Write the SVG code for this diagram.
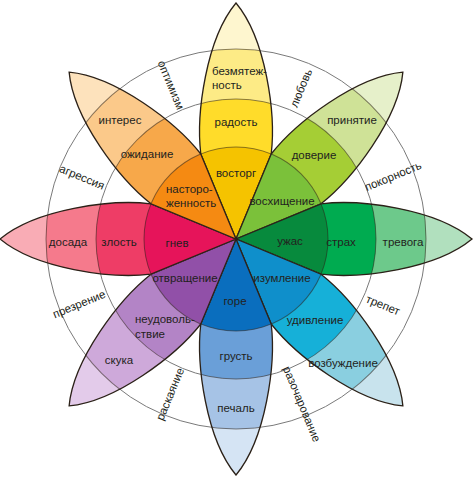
<svg xmlns="http://www.w3.org/2000/svg" xmlns:xlink="http://www.w3.org/1999/xlink" width="474" height="478" viewBox="0 0 474 478">
<defs>
<path id="petal" d="M0,0 L35.2,-85 C40,-125 30,-200 0,-236 C-30,-200 -40,-125 -35.2,-85 Z"/>
<clipPath id="pc"><use xlink:href="#petal"/></clipPath>
</defs>
<style>
.t{font-family:"Liberation Sans",Arial,sans-serif;font-size:11.5px;fill:#231f20;text-anchor:middle}
.s{text-anchor:start}
.ring{fill:none;stroke:#7a7a7a;stroke-width:1}
.band{fill:none;stroke:#2b2118;stroke-opacity:0.55;stroke-width:1}
.edge{fill:none;stroke:#2b2118;stroke-width:1.3;stroke-linejoin:miter}
</style>
<rect width="474" height="478" fill="#fff"/>
<g id="rings">
<circle class="ring" cx="236" cy="239" r="140"/>
<circle class="ring" cx="236" cy="239" r="190"/>
</g>
<g id="petal-joy" transform="translate(236,239)">
<g clip-path="url(#pc)">
<circle r="240" fill="#fef6cf"/><circle r="190" fill="#fdeb86"/><circle r="140" fill="#ffdc2a"/><circle r="92" fill="#f5c300"/>
<circle class="band" r="190"/><circle class="band" r="140"/><circle class="band" r="92"/>
</g>
<use xlink:href="#petal" class="edge"/>
</g>
<g id="petal-trust" transform="translate(236,239) rotate(45)">
<g clip-path="url(#pc)">
<circle r="240" fill="#e6f0ca"/><circle r="190" fill="#cfe297"/><circle r="140" fill="#a5ce35"/><circle r="92" fill="#7bc13a"/>
<circle class="band" r="190"/><circle class="band" r="140"/><circle class="band" r="92"/>
</g>
<use xlink:href="#petal" class="edge"/>
</g>
<g id="petal-fear" transform="translate(236,239) rotate(90)">
<g clip-path="url(#pc)">
<circle r="240" fill="#b1e0be"/><circle r="190" fill="#6dc98b"/><circle r="140" fill="#00ab50"/><circle r="92" fill="#078a3d"/>
<circle class="band" r="190"/><circle class="band" r="140"/><circle class="band" r="92"/>
</g>
<use xlink:href="#petal" class="edge"/>
</g>
<g id="petal-surprise" transform="translate(236,239) rotate(135)">
<g clip-path="url(#pc)">
<circle r="240" fill="#c8e3ed"/><circle r="190" fill="#8acfe0"/><circle r="140" fill="#16b0d8"/><circle r="92" fill="#0f8fcb"/>
<circle class="band" r="190"/><circle class="band" r="140"/><circle class="band" r="92"/>
</g>
<use xlink:href="#petal" class="edge"/>
</g>
<g id="petal-sadness" transform="translate(236,239) rotate(180)">
<g clip-path="url(#pc)">
<circle r="240" fill="#d5e4f4"/><circle r="190" fill="#a6c3e6"/><circle r="140" fill="#6a9fd8"/><circle r="92" fill="#0a6ebe"/>
<circle class="band" r="190"/><circle class="band" r="140"/><circle class="band" r="92"/>
</g>
<use xlink:href="#petal" class="edge"/>
</g>
<g id="petal-disgust" transform="translate(236,239) rotate(225)">
<g clip-path="url(#pc)">
<circle r="240" fill="#e3cbea"/><circle r="190" fill="#cea9da"/><circle r="140" fill="#b384c6"/><circle r="92" fill="#9150a8"/>
<circle class="band" r="190"/><circle class="band" r="140"/><circle class="band" r="92"/>
</g>
<use xlink:href="#petal" class="edge"/>
</g>
<g id="petal-anger" transform="translate(236,239) rotate(270)">
<g clip-path="url(#pc)">
<circle r="240" fill="#f9acb5"/><circle r="190" fill="#f57a8c"/><circle r="140" fill="#ee3d66"/><circle r="92" fill="#e6145a"/>
<circle class="band" r="190"/><circle class="band" r="140"/><circle class="band" r="92"/>
</g>
<use xlink:href="#petal" class="edge"/>
</g>
<g id="petal-anticipation" transform="translate(236,239) rotate(315)">
<g clip-path="url(#pc)">
<circle r="240" fill="#fde2bc"/><circle r="190" fill="#fbc98a"/><circle r="140" fill="#f7a84a"/><circle r="92" fill="#f58a12"/>
<circle class="band" r="190"/><circle class="band" r="140"/><circle class="band" r="92"/>
</g>
<use xlink:href="#petal" class="edge"/>
</g>
<g id="labels-petals">
<text class="t s" x="212" y="75">безмятеж-</text>
<text class="t s" x="212" y="89">ность</text>
<text class="t" x="236" y="126">радость</text>
<text class="t" x="236" y="177">восторг</text>
<text class="t s" x="166" y="193">насторо-</text>
<text class="t s" x="166" y="207">женность</text>
<text class="t" x="147" y="158">ожидание</text>
<text class="t" x="120" y="124">интерес</text>
<text class="t" x="282" y="205">восхищение</text>
<text class="t" x="314" y="159">доверие</text>
<text class="t" x="352" y="124">принятие</text>
<text class="t" x="177" y="247">гнев</text>
<text class="t" x="119" y="246">злость</text>
<text class="t" x="68" y="246">досада</text>
<text class="t" x="290" y="245">ужас</text>
<text class="t" x="341" y="246">страх</text>
<text class="t" x="403" y="246">тревога</text>
<text class="t" x="185" y="282">отвращение</text>
<text class="t s" x="135" y="323">неудоволь-</text>
<text class="t s" x="135" y="338">ствие</text>
<text class="t" x="119" y="364">скука</text>
<text class="t" x="282" y="282">изумление</text>
<text class="t" x="315" y="324">удивление</text>
<text class="t" x="343" y="367">возбуждение</text>
<text class="t" x="235" y="305">горе</text>
<text class="t" x="236" y="360">грусть</text>
<text class="t" x="236" y="412">печаль</text>
</g>
<g id="labels-dyads">
<text class="t" transform="translate(171,85) rotate(67.5)" y="4">оптимизм</text>
<text class="t" transform="translate(301,88) rotate(-67.5)" y="4">любовь</text>
<text class="t" transform="translate(393,176) rotate(-22.5)" y="4">покорность</text>
<text class="t" transform="translate(383,305) rotate(22.5)" y="4">трепет</text>
<text class="t" transform="translate(302,404) rotate(67.5)" y="4">разочарование</text>
<text class="t" transform="translate(170,394) rotate(-67.5)" y="4">раскаяние</text>
<text class="t" transform="translate(79,304) rotate(-22.5)" y="4">презрение</text>
<text class="t" transform="translate(82,177) rotate(22.5)" y="4">агрессия</text>
</g>
</svg>
